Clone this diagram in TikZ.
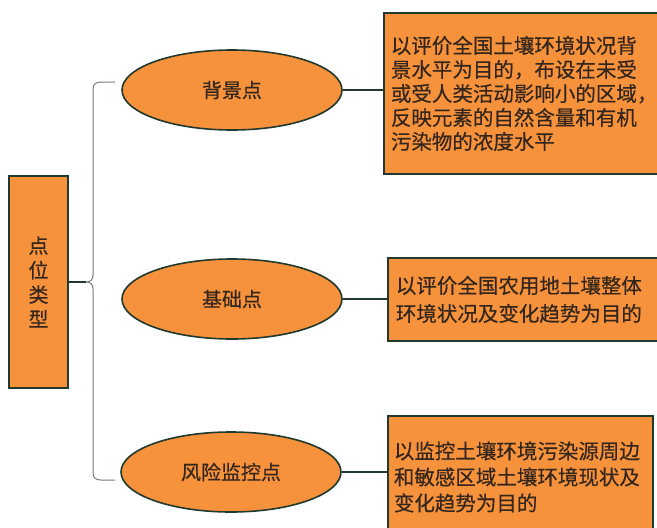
\documentclass[tikz,border=0pt]{standalone}
\usepackage{fontspec}
\newfontfamily\cjk[FakeBold=0.4]{Noto Sans CJK SC}
\usetikzlibrary{shapes.geometric}
\definecolor{fillor}{HTML}{F6913C}
\definecolor{edgec}{HTML}{22392E}
\definecolor{txtc}{HTML}{33261C}
\definecolor{bracec}{HTML}{7A7A7A}
\begin{document}
\begin{tikzpicture}[x=1pt,y=-1pt,
  ell/.style={ellipse, draw=edgec, line width=1.6pt, fill=fillor, minimum width=220pt, minimum height=80pt, inner sep=0pt, text=txtc, font=\cjk\fontsize{20}{24}\selectfont},
  infobox/.style={rectangle, draw=edgec, line width=1.8pt, fill=fillor, anchor=north west, align=left, inner ysep=0pt, text=txtc},
  leftbox/.style={rectangle, draw=edgec, line width=1.8pt, fill=fillor, minimum width=59pt, minimum height=212pt, inner sep=0pt, align=center, text=txtc, font=\cjk\fontsize{20}{24.5}\selectfont},
  conn/.style={draw=edgec, line width=1.1pt},
  bracel/.style={draw=bracec, line width=1pt}]
\useasboundingbox (0,0) rectangle (657,528);
\clip (0,0) rectangle (657,528);
\fill[white] (0,0) rectangle (657,528);

\node[leftbox] (lb) at (38.5,282) {点\\位\\类\\型};

\node[ell] (e1) at (232,90) {背景点};
\node[ell] (e2) at (232,299) {基础点};
\node[ell] (e3) at (231,472) {风险监控点};

\node[infobox, text width=263pt, minimum height=161pt, inner xsep=7pt,
      font=\cjk\fontsize{20.5}{24}\selectfont] (b1) at (383,12)
  {以评价全国土壤环境状况背\\景水平为目的，布设在未受\\或受人类活动影响小的区域，\\反映元素的自然含量和有机\\污染物的浓度水平};
\node[infobox, text width=257pt, minimum height=83pt, inner xsep=8pt,
      font=\cjk\fontsize{20.5}{28}\selectfont] (b2) at (387,257)
  {以评价全国农用地土壤整体\\环境状况及变化趋势为目的};
\node[infobox, text width=253pt, minimum height=122pt, inner xsep=6pt,
      font=\cjk\fontsize{20.5}{26}\selectfont] (b3) at (387,415)
  {以监控土壤环境污染源周边\\和敏感区域土壤环境现状及\\变化趋势为目的};

\coordinate (bt) at (115,82);
\coordinate (bb) at (115,480);
\coordinate (tip) at (86,282);
\draw[bracel] (bt) -- (101,82) .. controls (96,82) and (93,84) .. (93,89)
  -- (93,275) .. controls (93,280) and (90,282) .. (tip)
  .. controls (90,282) and (93,284) .. (93,289)
  -- (93,473) .. controls (93,478) and (96,480) .. (101,480) -- (bb);
\draw[conn] (lb.east) -- (tip);

\draw[conn] (e1.east) -- (e1.east -| b1.west);
\draw[conn] (e2.east) -- (e2.east -| b2.west);
\draw[conn] (e3.east) -- (e3.east -| b3.west);
\end{tikzpicture}
\end{document}
